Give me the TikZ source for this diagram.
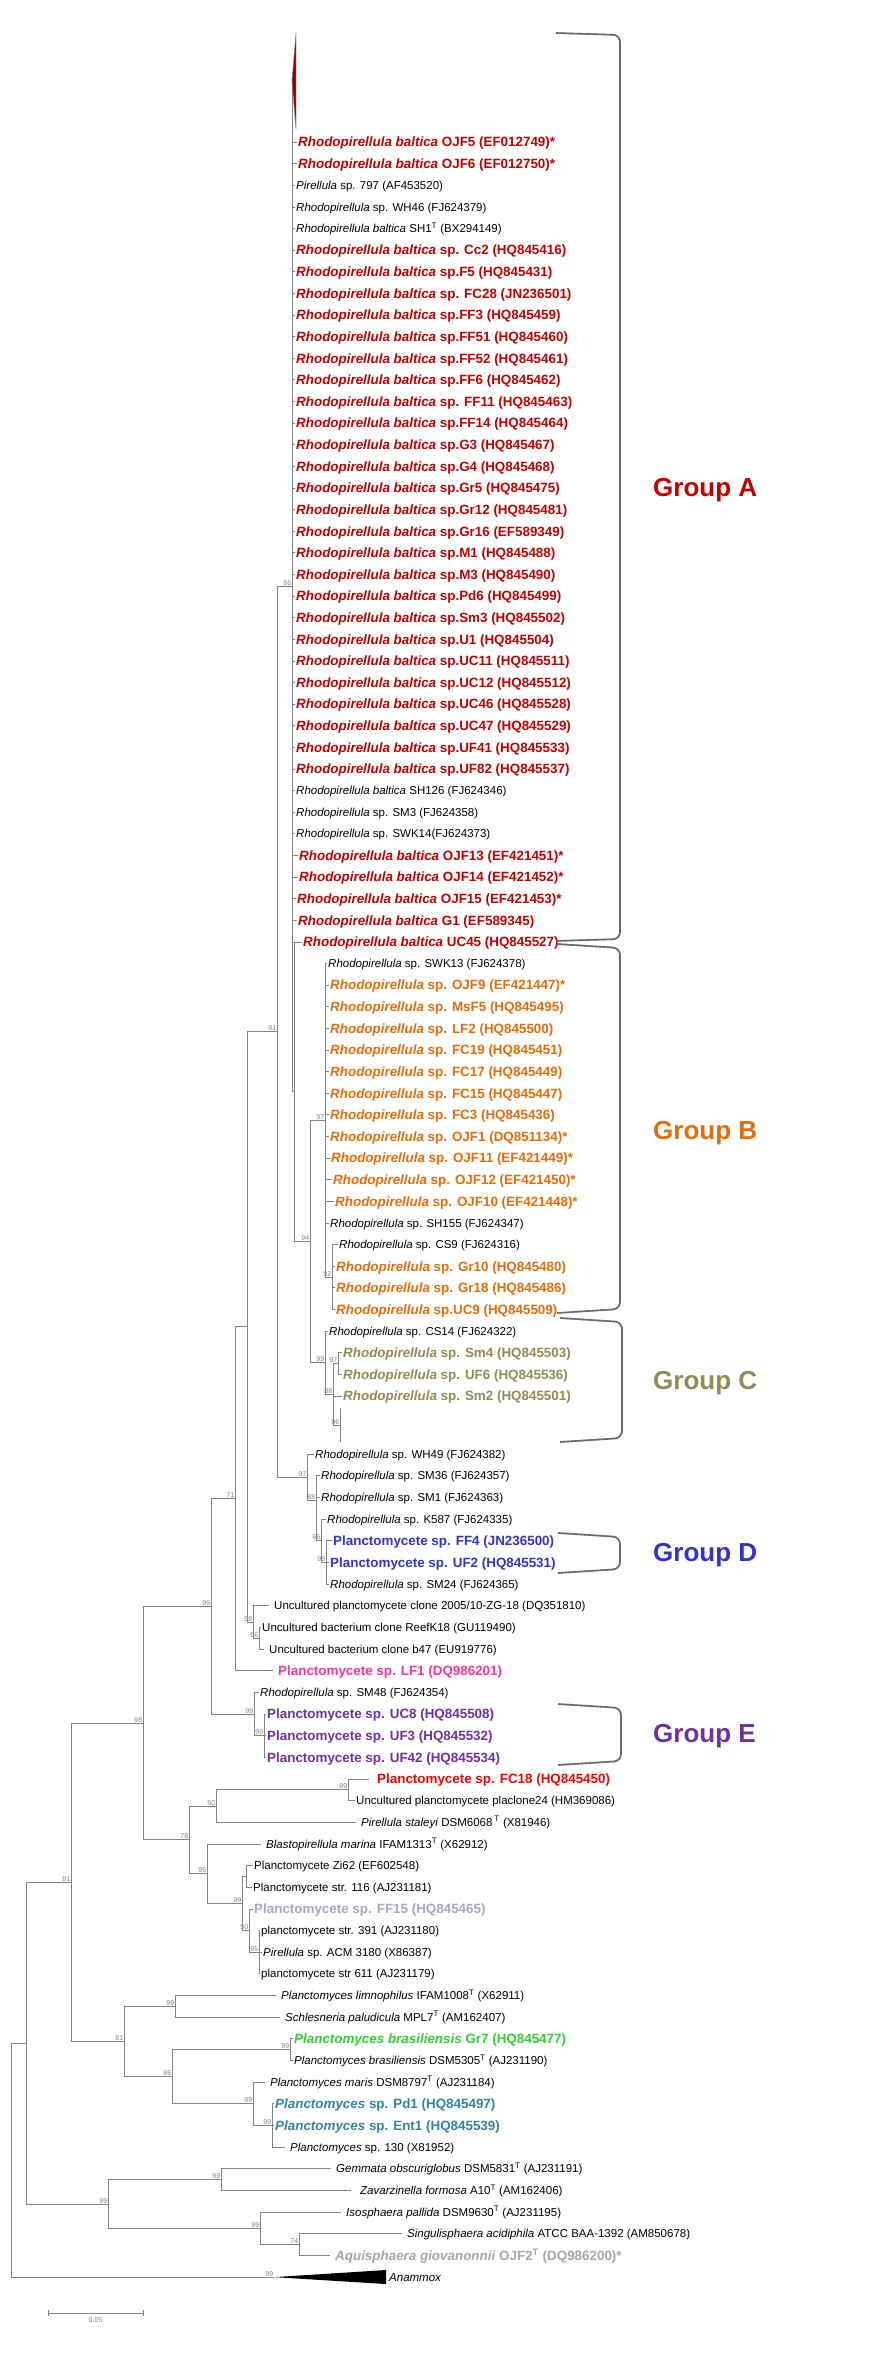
\documentclass[tikz,border=0pt]{standalone}
\usepackage{fontspec}
\setmainfont{Liberation Sans}
\definecolor{treegray}{RGB}{130,130,130}
\definecolor{brkgray}{RGB}{105,105,105}
\definecolor{brkshadow}{RGB}{190,190,190}
\definecolor{cA}{RGB}{192,0,0}
\definecolor{cB}{RGB}{228,108,10}
\definecolor{cC}{RGB}{148,138,84}
\definecolor{cD}{RGB}{51,51,204}
\definecolor{cE}{RGB}{112,48,160}
\definecolor{cLF}{RGB}{255,51,153}
\definecolor{cFC}{RGB}{255,0,0}
\definecolor{cFF}{RGB}{177,160,199}
\definecolor{cGr}{RGB}{51,204,51}
\definecolor{cTe}{RGB}{49,133,156}
\definecolor{cAq}{RGB}{166,166,166}
\definecolor{cTri}{RGB}{150,0,0}
\newcommand{\RhB}{\textit{Rhodopirellula baltica}}
\newcommand{\RhS}{\textit{Rhodopirellula}}
\tikzset{
  br/.style={draw=treegray, line width=0.75pt},
  lk/.style={br, shorten >=0.5pt},
  lkl/.style={br, shorten >=4pt},
  lr/.style={anchor=west, inner sep=1pt, font=\fontsize{11.5}{13}\selectfont, text height=9.27pt, text depth=1.04pt},
  lb/.style={anchor=west, inner sep=1pt, font=\fontsize{13.4}{15}\selectfont\bfseries, text height=10.8pt, text depth=1.2pt},
  tA/.style={text=cA}, tB/.style={text=cB}, tC/.style={text=cC}, tD/.style={text=cD}, tE/.style={text=cE},
  bs/.style={anchor=south east, inner sep=0.6pt, font=\fontsize{7}{7}\selectfont, text=gray},
  grp/.style={anchor=west, inner sep=0pt, font=\fontsize{26}{30}\selectfont\bfseries},
  brk/.style={draw=brkgray, line width=1.6pt, rounded corners=7pt},
  brksh/.style={draw=brkshadow, line width=1.6pt, rounded corners=7pt, xshift=1.6pt, yshift=-1.2pt},
}
\begin{document}
\begin{tikzpicture}[x=1pt,y=-1pt]
\useasboundingbox[fill=white] (0,0) rectangle (892,2368);

% ---------- internal nodes ----------
\coordinate (nRoot) at (11,2160);
\coordinate (nU) at (26,2043.1);
\coordinate (nT) at (71,1882.2);
\coordinate (nS) at (143,1723);
\coordinate (nR) at (211,1606.3);
\coordinate (nQ) at (235,1498.7);
\coordinate (nP) at (247,1326.8);
\coordinate (n91) at (277,1031.7);
\coordinate (nA) at (292,586.4);
\coordinate (nTri) at (292,81);
\coordinate (nTri1) at (296,33);
\coordinate (nTri2) at (296,129);
\coordinate (nX) at (294.5,1091.7);
\coordinate (n94) at (310,1241.4);
\coordinate (n97B) at (325,1120.2);
\coordinate (n92) at (332,1277);
\coordinate (n99C) at (325,1362.5);
\coordinate (n88c) at (333,1394);
\coordinate (n97c) at (338,1363.5);
\coordinate (n96c) at (340,1425);
\coordinate (n96ct) at (340,1408);
\coordinate (n96cb) at (340,1442);
\coordinate (n97b) at (307,1477);
\coordinate (n88b) at (316,1500);
\coordinate (n66) at (321,1540.7);
\coordinate (n95d) at (326,1562.3);
\coordinate (n59) at (253,1621.9);
\coordinate (n96u) at (259,1638.1);
\coordinate (nE) at (254,1714);
\coordinate (n99e) at (264,1735.6);
\coordinate (n78) at (189,1839.8);
\coordinate (n50) at (216,1806);
\coordinate (n99f) at (348,1789.7);
\coordinate (n95f) at (207,1873.6);
\coordinate (n99g) at (242,1903.4);
\coordinate (nZ) at (246,1876.3);
\coordinate (n50g) at (249,1930.5);
\coordinate (n95g) at (259,1952.2);
\coordinate (n81b) at (124,2041.5);
\coordinate (n99h) at (175,2006.3);
\coordinate (n86h) at (172,2076.7);
\coordinate (n99i) at (290,2049.6);
\coordinate (n99j) at (253,2103.8);
\coordinate (n99k) at (272,2125.5);
\coordinate (n99m) at (108,2204);
\coordinate (n99n) at (221,2179.6);
\coordinate (n99o) at (260,2228.4);
\coordinate (n74) at (299,2244.6);
\coordinate (nAnT) at (274,2277.1);
\coordinate (nAn1) at (386,2270);
\coordinate (nAn2) at (386,2284);

% ---------- Group A leaves ----------
\node[lb,tA] (a1) at (297,142.0) {\RhB{} OJF5 (EF012749)*};
\node[lb,tA] (a2) at (297,163.6) {\RhB{} OJF6 (EF012750)*};
\node[lr] (a3) at (295,185.2) {\textit{Pirellula} sp. 797 (AF453520)};
\node[lr] (a4) at (295,206.9) {\RhS{} sp. WH46 (FJ624379)};
\node[lr] (a5) at (295,228.5) {\RhB{} SH1\textsuperscript{T} (BX294149)};
\node[lb,tA] (a6) at (295,250.1) {\RhB{} sp. Cc2 (HQ845416)};
\node[lb,tA] (a7) at (295,271.7) {\RhB{} sp.F5 (HQ845431)};
\node[lb,tA] (a8) at (295,293.3) {\RhB{} sp. FC28 (JN236501)};
\node[lb,tA] (a9) at (295,315.0) {\RhB{} sp.FF3 (HQ845459)};
\node[lb,tA] (a10) at (295,336.6) {\RhB{} sp.FF51 (HQ845460)};
\node[lb,tA] (a11) at (295,358.2) {\RhB{} sp.FF52 (HQ845461)};
\node[lb,tA] (a12) at (295,379.8) {\RhB{} sp.FF6 (HQ845462)};
\node[lb,tA] (a13) at (295,401.4) {\RhB{} sp. FF11 (HQ845463)};
\node[lb,tA] (a14) at (295,423.1) {\RhB{} sp.FF14 (HQ845464)};
\node[lb,tA] (a15) at (295,444.7) {\RhB{} sp.G3 (HQ845467)};
\node[lb,tA] (a16) at (295,466.3) {\RhB{} sp.G4 (HQ845468)};
\node[lb,tA] (a17) at (295,487.9) {\RhB{} sp.Gr5 (HQ845475)};
\node[lb,tA] (a18) at (295,509.5) {\RhB{} sp.Gr12 (HQ845481)};
\node[lb,tA] (a19) at (295,531.2) {\RhB{} sp.Gr16 (EF589349)};
\node[lb,tA] (a20) at (295,552.8) {\RhB{} sp.M1 (HQ845488)};
\node[lb,tA] (a21) at (295,574.4) {\RhB{} sp.M3 (HQ845490)};
\node[lb,tA] (a22) at (295,596.0) {\RhB{} sp.Pd6 (HQ845499)};
\node[lb,tA] (a23) at (295,617.6) {\RhB{} sp.Sm3 (HQ845502)};
\node[lb,tA] (a24) at (295,639.3) {\RhB{} sp.U1 (HQ845504)};
\node[lb,tA] (a25) at (295,660.9) {\RhB{} sp.UC11 (HQ845511)};
\node[lb,tA] (a26) at (295,682.5) {\RhB{} sp.UC12 (HQ845512)};
\node[lb,tA] (a27) at (295,704.1) {\RhB{} sp.UC46 (HQ845528)};
\node[lb,tA] (a28) at (295,725.7) {\RhB{} sp.UC47 (HQ845529)};
\node[lb,tA] (a29) at (295,747.4) {\RhB{} sp.UF41 (HQ845533)};
\node[lb,tA] (a30) at (295,769.0) {\RhB{} sp.UF82 (HQ845537)};
\node[lr] (a31) at (295,790.6) {\RhB{} SH126 (FJ624346)};
\node[lr] (a32) at (295,812.2) {\RhS{} sp. SM3 (FJ624358)};
\node[lr] (a33) at (295,833.8) {\RhS{} sp. SWK14(FJ624373)};
\node[lb,tA] (a34) at (298,855.5) {\RhB{} OJF13 (EF421451)*};
\node[lb,tA] (a35) at (298,877.1) {\RhB{} OJF14 (EF421452)*};
\node[lb,tA] (a36) at (296,898.7) {\RhB{} OJF15 (EF421453)*};
\node[lb,tA] (a37) at (297,920.3) {\RhB{} G1 (EF589345)};
\node[lb,tA] (a38) at (302,941.9) {\RhB{} UC45 (HQ845527)};

% ---------- Group B leaves ----------
\node[lr] (b1) at (327,963.5) {\RhS{} sp. SWK13 (FJ624378)};
\node[lb,tB] (b2) at (329,985.1) {\RhS{} sp. OJF9 (EF421447)*};
\node[lb,tB] (b3) at (329,1006.7) {\RhS{} sp. MsF5 (HQ845495)};
\node[lb,tB] (b4) at (329,1028.3) {\RhS{} sp. LF2 (HQ845500)};
\node[lb,tB] (b5) at (329,1050.0) {\RhS{} sp. FC19 (HQ845451)};
\node[lb,tB] (b6) at (329,1071.6) {\RhS{} sp. FC17 (HQ845449)};
\node[lb,tB] (b7) at (329,1093.2) {\RhS{} sp. FC15 (HQ845447)};
\node[lb,tB] (b8) at (329,1114.8) {\RhS{} sp. FC3 (HQ845436)};
\node[lb,tB] (b9) at (329,1136.4) {\RhS{} sp. OJF1 (DQ851134)*};
\node[lb,tB] (b10) at (330,1158.1) {\RhS{} sp. OJF11 (EF421449)*};
\node[lb,tB] (b11) at (332,1179.7) {\RhS{} sp. OJF12 (EF421450)*};
\node[lb,tB] (b12) at (334,1201.3) {\RhS{} sp. OJF10 (EF421448)*};
\node[lr] (b13) at (329,1222.9) {\RhS{} sp. SH155 (FJ624347)};
\node[lr] (b14) at (338,1244.5) {\RhS{} sp. CS9 (FJ624316)};
\node[lb,tB] (b15) at (335,1266.2) {\RhS{} sp. Gr10 (HQ845480)};
\node[lb,tB] (b16) at (335,1287.8) {\RhS{} sp. Gr18 (HQ845486)};
\node[lb,tB] (b17) at (335,1309.4) {\RhS{} sp.UC9 (HQ845509)};

% ---------- Group C leaves ----------
\node[lr] (c1) at (328,1331.0) {\RhS{} sp. CS14 (FJ624322)};
\node[lb,tC] (c2) at (342,1352.6) {\RhS{} sp. Sm4 (HQ845503)};
\node[lb,tC] (c3) at (342,1374.3) {\RhS{} sp. UF6 (HQ845536)};
\node[lb,tC] (c4) at (342,1395.9) {\RhS{} sp. Sm2 (HQ845501)};

% ---------- D region ----------
\node[lr] (d1) at (314,1454.0) {\RhS{} sp. WH49 (FJ624382)};
\node[lr] (d2) at (320,1475.7) {\RhS{} sp. SM36 (FJ624357)};
\node[lr] (d3) at (320,1497.3) {\RhS{} sp. SM1 (FJ624363)};
\node[lr] (d4) at (326,1519.0) {\RhS{} sp. K587 (FJ624335)};
\node[lb,tD] (d5) at (332,1540.6) {Planctomycete sp. FF4 (JN236500)};
\node[lb,tD] (d6) at (329,1562.3) {Planctomycete sp. UF2 (HQ845531)};
\node[lr] (d7) at (329,1584.0) {\RhS{} sp. SM24 (FJ624365)};

% ---------- E region ----------
\node[lr] (e1) at (273,1605.6) {Uncultured planctomycete clone 2005/10-ZG-18 (DQ351810)};
\node[lr] (e2) at (261,1627.3) {Uncultured bacterium clone ReefK18 (GU119490)};
\node[lr] (e3) at (268,1648.9) {Uncultured bacterium clone b47 (EU919776)};
\node[lb,text=cLF] (e4) at (277,1670.6) {Planctomycete sp. LF1 (DQ986201)};
\node[lr] (e5) at (259,1692.3) {\RhS{} sp. SM48 (FJ624354)};
\node[lb,tE] (e6) at (266,1713.9) {Planctomycete sp. UC8 (HQ845508)};
\node[lb,tE] (e7) at (266,1735.6) {Planctomycete sp. UF3 (HQ845532)};
\node[lb,tE] (e8) at (266,1757.2) {Planctomycete sp. UF42 (HQ845534)};

% ---------- lower leaves ----------
\node[lb,text=cFC] (f1) at (376,1778.9) {Planctomycete sp. FC18 (HQ845450)};
\node[lr] (f2) at (355,1800.6) {Uncultured planctomycete placlone24 (HM369086)};
\node[lr] (f3) at (360,1822.2) {\textit{Pirellula staleyi} DSM6068\,\textsuperscript{T} (X81946)};
\node[lr] (f4) at (265,1843.9) {\textit{Blastopirellula marina} IFAM1313\textsuperscript{T} (X62912)};
\node[lr] (f5) at (253,1865.5) {Planctomycete Zi62 (EF602548)};
\node[lr] (f6) at (252,1887.2) {Planctomycete str. 116 (AJ231181)};
\node[lb,text=cFF] (f7) at (253,1908.9) {Planctomycete sp. FF15 (HQ845465)};
\node[lr] (f8) at (260,1930.5) {planctomycete str. 391 (AJ231180)};
\node[lr] (f9) at (262,1952.2) {\textit{Pirellula} sp. ACM 3180 (X86387)};
\node[lr] (f10) at (260,1973.8) {planctomycete str 611 (AJ231179)};

\node[lr] (g1) at (280,1995.5) {\textit{Planctomyces limnophilus} IFAM1008\textsuperscript{T} (X62911)};
\node[lr] (g2) at (284,2017.2) {\textit{Schlesneria paludicula} MPL7\textsuperscript{T} (AM162407)};
\node[lb,text=cGr] (g3) at (293,2038.8) {\textit{Planctomyces brasiliensis} Gr7 (HQ845477)};
\node[lr] (g4) at (293,2060.5) {\textit{Planctomyces brasiliensis} DSM5305\textsuperscript{T} (AJ231190)};
\node[lr] (g5) at (269,2082.1) {\textit{Planctomyces maris} DSM8797\textsuperscript{T} (AJ231184)};
\node[lb,text=cTe] (g6) at (274,2103.8) {\textit{Planctomyces} sp. Pd1 (HQ845497)};
\node[lb,text=cTe] (g7) at (274,2125.5) {\textit{Planctomyces} sp. Ent1 (HQ845539)};
\node[lr] (g8) at (289,2147.1) {\textit{Planctomyces} sp. 130 (X81952)};

\node[lr] (h1) at (335,2168.8) {\textit{Gemmata obscuriglobus} DSM5831\textsuperscript{T} (AJ231191)};
\node[lr] (h2) at (359,2190.4) {\textit{Zavarzinella formosa} A10\textsuperscript{T} (AM162406)};
\node[lr] (h3) at (345,2212.1) {\textit{Isosphaera pallida} DSM9630\textsuperscript{T} (AJ231195)};
\node[lr] (h4) at (406,2233.8) {\textit{Singulisphaera acidiphila} ATCC BAA-1392 (AM850678)};
\node[lb,text=cAq] (h5) at (334,2255.4) {\textit{Aquisphaera giovanonnii} OJF2\textsuperscript{T} (DQ986200)*};
\node[lr] (h6) at (388,2277.1) {\textit{Anammox}};

% ---------- branches ----------
\draw[br] (nRoot) |- (nU);
\draw[br] (nRoot) |- (nAnT);
\fill[black] (nAnT) -- (nAn1) -- (nAn2) -- cycle;
\draw[br] (nU) |- (nT);
\draw[br] (nU) |- (n99m);
\draw[br] (nT) |- (nS);
\draw[br] (nT) |- (n81b);
\draw[br] (nS) |- (nR);
\draw[br] (nS) |- (n78);
\draw[br] (nR) |- (nQ);
\draw[br] (nR) |- (nE);
\draw[br] (nQ) |- (nP);
\draw[lkl] (nQ) |- (e4.west);
\draw[br] (nP) |- (n91);
\draw[br] (nP) |- (n59);
\draw[br] (n91) |- (nA);
\draw[br] (n91) |- (n97b);
\draw[br] (nA) |- (nTri);
\draw[br] (nA) |- (nX);
\filldraw[fill=cTri, draw=treegray, line width=0.4pt] (nTri) -- (nTri1) -- (nTri2) -- cycle;
\foreach \c in {a1,a2,a3,a4,a5,a6,a7,a8,a9,a10,a11,a12,a13,a14,a15,a16,a17,a18,a19,a20,a21,a22,a23,a24,a25,a26,a27,a28,a29,a30,a31,a32,a33,a34,a35,a36,a37}
  \draw[lk] (nA) |- (\c.west);
\draw[lk] (nX) |- (a38.west);
\draw[br] (nX) |- (n94);
\draw[br] (n94) |- (n97B);
\draw[br] (n94) |- (n99C);
\foreach \c in {b1,b2,b3,b4,b5,b6,b7,b8,b9,b10,b11,b12,b13}
  \draw[lk] (n97B) |- (\c.west);
\draw[br] (n97B) |- (n92);
\foreach \c in {b14,b15,b16,b17}
  \draw[lk] (n92) |- (\c.west);
\draw[lk] (n99C) |- (c1.west);
\draw[br] (n99C) |- (n88c);
\draw[br] (n88c) |- (n97c);
\draw[lk] (n88c) |- (c4.west);
\draw[br] (n88c) |- (n96c);
\draw[br] (n96ct) -- (n96cb);
\draw[lk] (n97c) |- (c2.west);
\draw[lk] (n97c) |- (c3.west);
\draw[lk] (n97b) |- (d1.west);
\draw[br] (n97b) |- (n88b);
\draw[lk] (n88b) |- (d2.west);
\draw[lk] (n88b) |- (d3.west);
\draw[br] (n88b) |- (n66);
\draw[lk] (n66) |- (d4.west);
\draw[br] (n66) |- (n95d);
\foreach \c in {d5,d6,d7}
  \draw[lk] (n95d) |- (\c.west);
\draw[lkl] (n59) |- (e1.west);
\draw[br] (n59) |- (n96u);
\draw[lk] (n96u) |- (e2.west);
\draw[lkl] (n96u) |- (e3.west);
\draw[lk] (nE) |- (e5.west);
\draw[br] (nE) |- (n99e);
\foreach \c in {e6,e7,e8}
  \draw[lk] (n99e) |- (\c.west);
\draw[br] (n78) |- (n50);
\draw[br] (n78) |- (n95f);
\draw[br] (n50) |- (n99f);
\draw[lkl] (n50) |- (f3.west);
\draw[br,shorten >=7pt] (n99f) |- (f1.west);
\draw[lk] (n99f) |- (f2.west);
\draw[lkl] (n95f) |- (f4.west);
\draw[br] (n95f) |- (n99g);
\draw[br] (n99g) |- (nZ);
\draw[br] (n99g) |- (n50g);
\draw[lk] (nZ) |- (f5.west);
\draw[lk] (nZ) |- (f6.west);
\draw[lk] (n50g) |- (f7.west);
\draw[br] (n50g) |- (n95g);
\foreach \c in {f8,f9,f10}
  \draw[lk] (n95g) |- (\c.west);
\draw[br] (n81b) |- (n99h);
\draw[br] (n81b) |- (n86h);
\draw[lkl] (n99h) |- (g1.west);
\draw[lkl] (n99h) |- (g2.west);
\draw[br] (n86h) |- (n99i);
\draw[br] (n86h) |- (n99j);
\draw[lk] (n99i) |- (g3.west);
\draw[lk] (n99i) |- (g4.west);
\draw[lkl] (n99j) |- (g5.west);
\draw[br] (n99j) |- (n99k);
\draw[lk] (n99k) |- (g6.west);
\draw[lk] (n99k) |- (g7.west);
\draw[lkl] (n99k) |- (g8.west);
\draw[br] (n99m) |- (n99n);
\draw[br] (n99m) |- (n99o);
\draw[lkl] (n99n) |- (h1.west);
\draw[br,shorten >=8pt] (n99n) |- (h2.west);
\draw[lkl] (n99o) |- (h3.west);
\draw[br] (n99o) |- (n74);
\draw[lkl] (n74) |- (h4.west);
\draw[lkl] (n74) |- (h5.west);

% ---------- bootstrap values ----------
\node[bs] (s1) at (nA) {86};
\node[bs] (s2) at (n91) {91};
\node[bs] (s3) at (n94) {94};
\node[bs] (s4) at (n97B) {97};
\node[bs] (s5) at (n92) {92};
\node[bs] (s6) at (n99C) {99};
\node[bs] (s7) at (n97c) {97};
\node[bs] (s8) at (n88c) {88};
\node[bs] (s9) at (n96c) {96};
\node[bs] (s10) at (n97b) {97};
\node[bs] (s11) at (n88b) {88};
\node[bs] (s12) at (n66) {66};
\node[bs] (s13) at (n95d) {95};
\node[bs] (s14) at (nQ) {71};
\node[bs] (s15) at (n59) {59};
\node[bs] (s16) at (n96u) {96};
\node[bs] (s17) at (nR) {99};
\node[bs] (s18) at (nE) {99};
\node[bs] (s19) at (n99e) {99};
\node[bs] (s20) at (nS) {98};
\node[bs] (s21) at (n99f) {99};
\node[bs] (s22) at (n50) {50};
\node[bs] (s23) at (n78) {78};
\node[bs] (s24) at (n95f) {95};
\node[bs] (s25) at (n99g) {99};
\node[bs] (s26) at (n50g) {50};
\node[bs] (s27) at (n95g) {95};
\node[bs] (s28) at (nT) {81};
\node[bs] (s29) at (n99h) {99};
\node[bs] (s30) at (n81b) {81};
\node[bs] (s31) at (n99i) {99};
\node[bs] (s32) at (n86h) {86};
\node[bs] (s33) at (n99j) {99};
\node[bs] (s34) at (n99k) {99};
\node[bs] (s35) at (n99n) {99};
\node[bs] (s36) at (n99m) {99};
\node[bs] (s37) at (n99o) {99};
\node[bs] (s38) at (n74) {74};
\node[bs] (s39) at (nAnT) {99};

% ---------- scale bar ----------
\coordinate (sb1) at (48,2313);
\coordinate (sb2) at (143,2313);
\draw[br] (sb1) -- (sb2);
\draw[br] ([yshift=3pt]sb1) -- ([yshift=-3pt]sb1);
\draw[br] ([yshift=3pt]sb2) -- ([yshift=-3pt]sb2);
\node[anchor=north, inner sep=0pt, font=\fontsize{7}{7}\selectfont, text=gray] (sbl) at (95.5,2317) {0.05};

% ---------- group brackets ----------
\coordinate (kA1) at (556,33);  \coordinate (kA2) at (620,35);
\coordinate (kA3) at (620,939); \coordinate (kA4) at (556,941);
\coordinate (kB1) at (557,944);  \coordinate (kB2) at (620,948);
\coordinate (kB3) at (620,1309); \coordinate (kB4) at (557,1313);
\coordinate (kC1) at (560,1318); \coordinate (kC2) at (622,1322);
\coordinate (kC3) at (622,1438); \coordinate (kC4) at (560,1442);
\coordinate (kD1) at (558,1533); \coordinate (kD2) at (620,1537);
\coordinate (kD3) at (620,1569); \coordinate (kD4) at (558,1573);
\coordinate (kE1) at (558,1704); \coordinate (kE2) at (621,1708);
\coordinate (kE3) at (621,1761); \coordinate (kE4) at (558,1765);
\foreach \k in {A,B,C,D,E} {
  \draw[brksh] (k\k1) -- (k\k2) -- (k\k3) -- (k\k4);
  \draw[brk] (k\k1) -- (k\k2) -- (k\k3) -- (k\k4);
}

\node[grp,text=cA] (gA) at (653,490) {Group A};
\node[grp,text=cB] (gB) at (653,1133) {Group B};
\node[grp,text=cC] (gC) at (653,1383) {Group C};
\node[grp,text=cD] (gD) at (653,1555) {Group D};
\node[grp,text=cE] (gE) at (653,1736) {Group E};
\end{tikzpicture}
\end{document}
